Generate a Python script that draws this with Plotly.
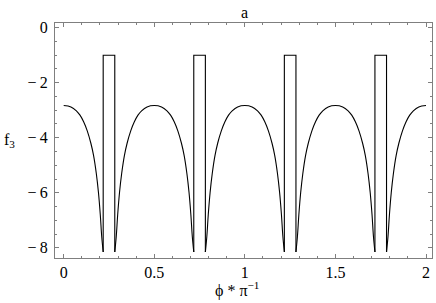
import plotly.graph_objects as go

# Data
dip_centers = [0.25, 0.75, 1.25, 1.75]        # centre of each rectangular pulse (phi/pi)
pulse_half_width = 0.032                        # half width of the pulses
pulse_top = -1.0
pulse_bottom = -8.15
# one half-arch profile: distance from dip centre -> f3
profile_r = [0.25, 0.21, 0.18, 0.16, 0.14, 0.12, 0.10, 0.085, 0.07, 0.058, 0.048, 0.04, 0.032]
profile_y = [-2.83, -2.88, -3.02, -3.18, -3.42, -3.75, -4.2, -4.65, -5.3, -6.0, -6.8, -7.6, -8.15]
x_ticks = [0, 0.5, 1, 1.5, 2]
x_ticklabels = ["0", "0.5", "1", "1.5", "2"]
y_ticks = [0, -2, -4, -6, -8]
y_ticklabels = ["0", "\u2212\u20092", "\u2212\u20094", "\u2212\u20096", "\u2212\u20098"]

# arches (smooth parts)
ax, ay = [], []
for r, y in zip(profile_r, profile_y):
    ax.append(dip_centers[0] - r); ay.append(y)
ax.append(None); ay.append(None)
for i in range(len(dip_centers)):
    c = dip_centers[i]
    for r, y in zip(reversed(profile_r), reversed(profile_y)):
        ax.append(c + r); ay.append(y)
    if i + 1 < len(dip_centers):
        n = dip_centers[i + 1]
        for r, y in zip(profile_r[1:], profile_y[1:]):
            ax.append(n - r); ay.append(y)
        ax.append(None); ay.append(None)

# pulses
px, py = [], []
for c in dip_centers:
    px += [c - pulse_half_width, c - pulse_half_width, c + pulse_half_width, c + pulse_half_width, None]
    py += [pulse_bottom, pulse_top, pulse_top, pulse_bottom, None]

fig = go.Figure()
fig.add_trace(go.Scatter(x=ax, y=ay, mode="lines", line=dict(color="black", width=1.1, shape="spline", smoothing=1.0),
                         connectgaps=False, showlegend=False, hoverinfo="skip"))
fig.add_trace(go.Scatter(x=px, y=py, mode="lines", line=dict(color="black", width=1.1),
                         connectgaps=False, showlegend=False, hoverinfo="skip"))

font = "Times New Roman"
frame = "#7f7f7f"
fig.update_layout(
    width=436, height=303,
    margin=dict(l=55, r=4, t=23, b=45),
    paper_bgcolor="white", plot_bgcolor="white",
    font=dict(family=font, size=16, color="black"),
    xaxis=dict(range=[-0.048, 2.033], tickvals=x_ticks, ticktext=x_ticklabels,
               showline=True, linecolor=frame, linewidth=1, mirror="allticks",
               ticks="inside", ticklen=4, tickcolor=frame, tickwidth=1,
               minor=dict(ticks="inside", dtick=0.1, tick0=0, ticklen=2, tickcolor=frame),
               showgrid=False, zeroline=False,
               tickfont=dict(family=font, size=16, color="black")),
    yaxis=dict(range=[-8.37, 0.17], tickvals=y_ticks, ticktext=y_ticklabels,
               showline=True, linecolor=frame, linewidth=1, mirror="allticks",
               ticks="inside", ticklen=4, tickcolor=frame, tickwidth=1,
               minor=dict(ticks="inside", dtick=0.5, tick0=0, ticklen=2, tickcolor=frame),
               showgrid=False, zeroline=False, ticklabelstandoff=3,
               tickfont=dict(family=font, size=16, color="black")),
    annotations=[
        dict(text="a", xref="paper", yref="paper", x=0.503, y=1.046, showarrow=False,
             xanchor="center", yanchor="middle", font=dict(family=font, size=16)),
        dict(text="f<sub>3</sub>", xref="paper", yref="paper", x=-0.14, y=0.50, showarrow=False,
             xanchor="left", yanchor="middle", font=dict(family=font, size=16)),
        dict(text="\u03d5 * \u03c0<sup>\u22121</sup>", xref="paper", yref="paper", x=0.482, y=-0.135,
             showarrow=False, xanchor="center", yanchor="middle", font=dict(family=font, size=16)),
    ],
)
fig.write_html("out.html", config={"displayModeBar": False},
               post_script="document.body.style.margin='0';document.body.style.padding='0';")
